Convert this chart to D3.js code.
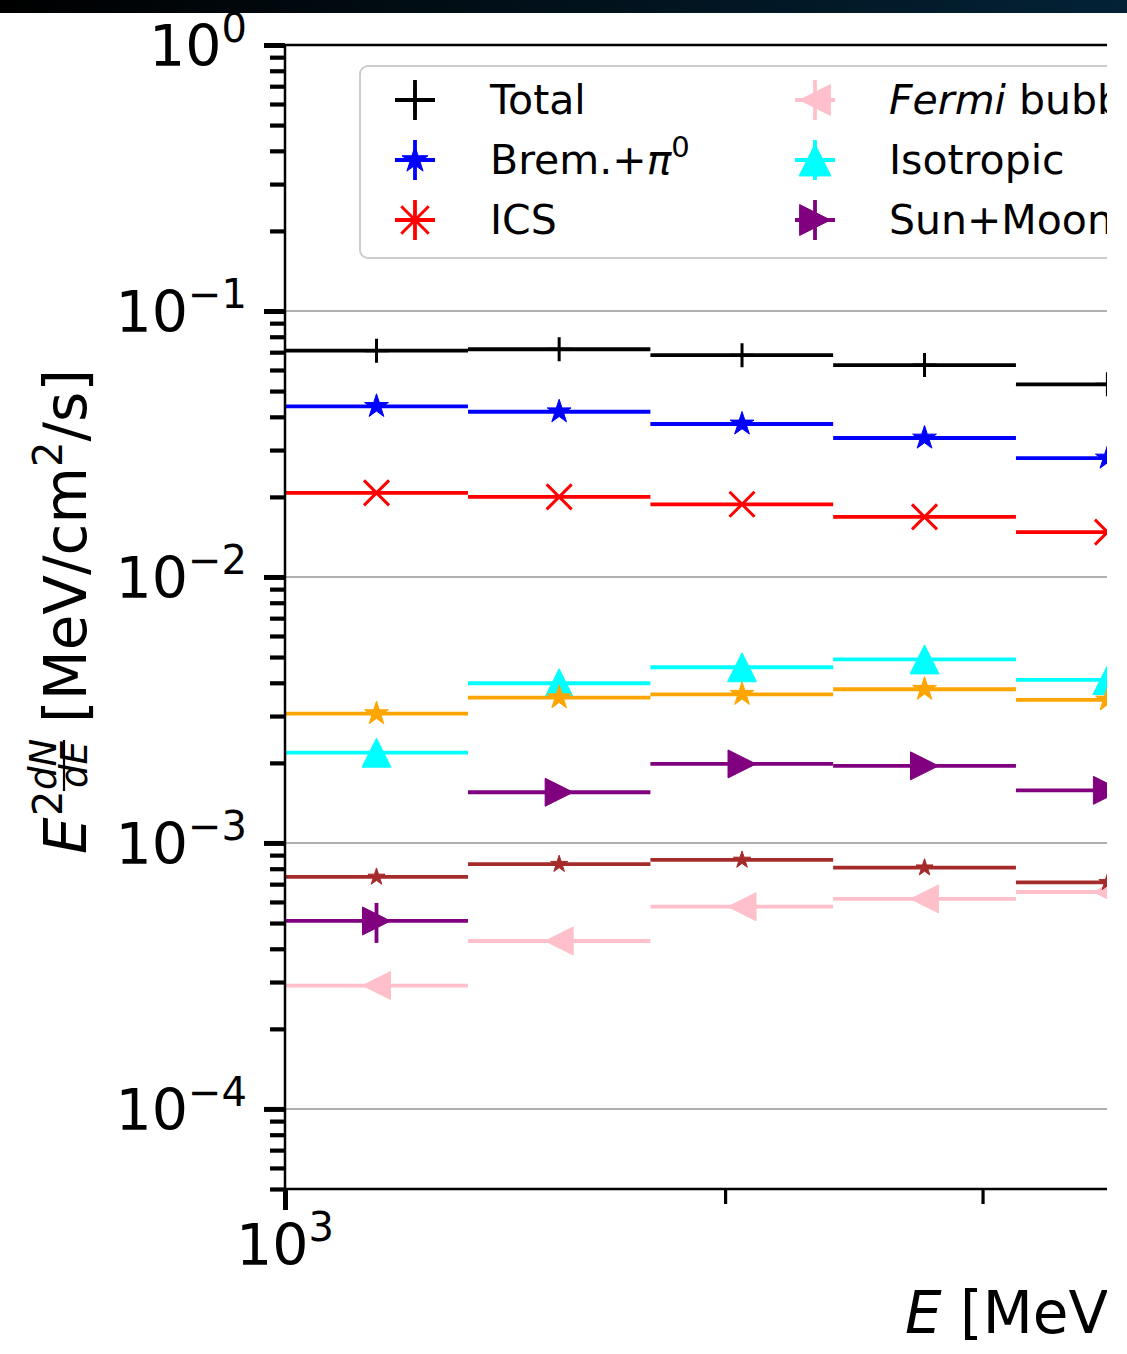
<!DOCTYPE html>
<html>
<head>
<meta charset="utf-8">
<script src="https://cdn.jsdelivr.net/npm/d3@7"></script>
<style>
  body { margin: 0; background: #fff; }
  svg { display: block; font-family: "DejaVu Sans", sans-serif; }
</style>
</head>
<body>
<div id="chart"></div>
<script>
// energy bins (MeV), 8 per decade
const binEdges = [1000, 1334, 1778, 2371, 3162, 4217];
const binCenters = [1155, 1540, 2054, 2738, 3652];

// E^2 dN/dE per component
const total = [0.0709, 0.0718, 0.0682, 0.0626, 0.0530];
const bremPi0 = [0.0438, 0.0418, 0.0376, 0.0333, 0.0280];
const ics = [0.0207, 0.0200, 0.01876, 0.01682, 0.01474];
const fermiBubbles = [0.000291, 0.000428, 0.000576, 0.000616, 0.000654];
const isotropic = [0.002185, 0.003985, 0.004576, 0.004899, 0.004100];
const sunMoon = [0.000509, 0.001551, 0.001982, 0.001949, 0.001577];
const orangeComp = [0.003063, 0.003517, 0.003622, 0.003783, 0.003448];
const brownComp = [0.000745, 0.000832, 0.000863, 0.000807, 0.000711];

// only visible y error bar (sun+moon, first bin)
const sunMoonErrLow = [0.000421, null, null, null, null];
const sunMoonErrHigh = [0.000595, null, null, null, null];

// ticks
const yMajorTicks = [1, 0.1, 0.01, 0.001, 0.0001];
const yMajorExp = ['0', '\u22121', '\u22122', '\u22123', '\u22124'];
const yMinorTicks = [0.9, 0.8, 0.7, 0.6, 0.5, 0.4, 0.3, 0.2,
  0.09, 0.08, 0.07, 0.06, 0.05, 0.04, 0.03, 0.02,
  0.009, 0.008, 0.007, 0.006, 0.005, 0.004, 0.003, 0.002,
  0.0009, 0.0008, 0.0007, 0.0006, 0.0005, 0.0004, 0.0003, 0.0002,
  0.00009, 0.00008, 0.00007, 0.00006, 0.00005];
const xMajorTicks = [1000];
const xMajorExp = ['3'];
const xMinorTicks = [2000, 3000, 4000, 5000];

const W = 1127, H = 1354;
const svg = d3.select('#chart').append('svg')
    .attr('width', W).attr('height', H);

// dark strip across the top of the screenshot
const defs = svg.append('defs');
const grad = defs.append('linearGradient').attr('id', 'topbar');
grad.append('stop').attr('offset', '0%').attr('stop-color', '#000000');
grad.append('stop').attr('offset', '100%').attr('stop-color', '#032236');
svg.append('rect').attr('x', 0).attr('y', 0).attr('width', W).attr('height', 13)
    .attr('fill', 'url(#topbar)');

// the figure is cropped on the right
defs.append('clipPath').attr('id', 'crop')
  .append('rect').attr('x', 0).attr('y', 13).attr('width', 1107).attr('height', H);

const g = svg.append('g').attr('clip-path', 'url(#crop)');

const plotLeft = 285, plotTop = 45, plotBottom = 1189;
const xScale = d3.scaleLog().domain([1000, 10000]).range([plotLeft, plotLeft + 1462]);
const yScale = d3.scaleLog().domain([5e-5, 1]).range([plotBottom, plotTop]);
const plotRight = xScale(10000);

// grid
g.append('g').selectAll('line').data(yMajorTicks).enter().append('line')
    .attr('x1', plotLeft).attr('x2', plotRight)
    .attr('y1', d => yScale(d)).attr('y2', d => yScale(d))
    .attr('stroke', '#b0b0b0').attr('stroke-width', 2);

// series table
const series = [
  {label: 'Total', values: total, color: 'black', marker: 'plus', r: 12},
  {label: 'Brem', values: bremPi0, color: 'blue', marker: 'star', r: 12.5},
  {label: 'ICS', values: ics, color: 'red', marker: 'x', r: 12.5},
  {label: 'Fermi', values: fermiBubbles, color: 'pink', marker: 'left', r: 14},
  {label: 'Isotropic', values: isotropic, color: 'cyan', marker: 'up', r: 14.5},
  {label: 'Sun+Moon', values: sunMoon, color: 'purple', marker: 'right', r: 14,
    lo: sunMoonErrLow, hi: sunMoonErrHigh},
  {label: 'orange', values: orangeComp, color: 'orange', marker: 'star', r: 12.5},
  {label: 'brown', values: brownComp, color: 'brown', marker: 'star', r: 9}
];

function markerPath(type, r){
  if(type === 'plus') return `M${-r},0H${r}M0,${-r}V${r}`;
  if(type === 'x') return `M${-r},${-r}L${r},${r}M${-r},${r}L${r},${-r}`;
  if(type === 'up') return `M0,${-r}L${-r},${r}L${r},${r}Z`;
  if(type === 'right') return `M${r},0L${-r},${-r}L${-r},${r}Z`;
  if(type === 'left') return `M${-r},0L${r},${-r}L${r},${r}Z`;
  // 5 point star
  let p = [];
  for(let i = 0; i < 10; i++){
    const a = -Math.PI / 2 + i * Math.PI / 5;
    const rr = i % 2 ? r * 0.381966 : r;
    p.push([rr * Math.cos(a), rr * Math.sin(a)]);
  }
  return 'M' + p.map(q => q[0].toFixed(2) + ',' + q[1].toFixed(2)).join('L') + 'Z';
}
const isOpen = t => t === 'plus' || t === 'x';

function drawMarker(sel, s, scale){
  const r = s.r * (scale || 1);
  sel.append('path')
    .attr('d', markerPath(s.marker, r))
    .attr('fill', isOpen(s.marker) ? 'none' : s.color)
    .attr('stroke', s.color)
    .attr('stroke-width', isOpen(s.marker) ? 3 : 1)
    .attr('stroke-linejoin', 'miter');
}

for(let s of series){
  const sg = g.append('g');
  const pts = s.values.map((v, i) => ({v: v, i: i}));
  // horizontal bin bars
  sg.selectAll('line.bin').data(pts).enter().append('line')
      .attr('x1', d => xScale(binEdges[d.i]))
      .attr('x2', d => xScale(binEdges[d.i + 1]))
      .attr('y1', d => yScale(d.v)).attr('y2', d => yScale(d.v))
      .attr('stroke', s.color).attr('stroke-width', 3.8);
  // y error bars where present
  if(s.lo){
    sg.selectAll('line.err').data(pts.filter(d => s.lo[d.i] !== null)).enter().append('line')
        .attr('x1', d => xScale(binCenters[d.i])).attr('x2', d => xScale(binCenters[d.i]))
        .attr('y1', d => yScale(s.lo[d.i])).attr('y2', d => yScale(s.hi[d.i]))
        .attr('stroke', s.color).attr('stroke-width', 3.8);
  }
  sg.selectAll('g.mk').data(pts).enter().append('g')
      .attr('transform', d => `translate(${xScale(binCenters[d.i])},${yScale(d.v)})`)
      .each(function(){ drawMarker(d3.select(this), s); });
}

// axes
const yMajor = g.append('g').attr('transform', `translate(${plotLeft},0)`)
    .call(d3.axisLeft(yScale).tickValues(yMajorTicks).tickFormat('').tickSize(21).tickSizeOuter(0));
const yMinor = g.append('g').attr('transform', `translate(${plotLeft},0)`)
    .call(d3.axisLeft(yScale).tickValues(yMinorTicks).tickFormat('').tickSize(15).tickSizeOuter(0));
const xMajor = g.append('g').attr('transform', `translate(0,${plotBottom})`)
    .call(d3.axisBottom(xScale).tickValues(xMajorTicks).tickFormat('').tickSize(21).tickSizeOuter(0));
const xMinor = g.append('g').attr('transform', `translate(0,${plotBottom})`)
    .call(d3.axisBottom(xScale).tickValues(xMinorTicks).tickFormat('').tickSize(15).tickSizeOuter(0));
g.selectAll('.domain').remove();
yMajor.selectAll('line').attr('stroke-width', 5);
yMinor.selectAll('line').attr('stroke-width', 4.2);
xMajor.selectAll('line').attr('stroke-width', 5);
xMinor.selectAll('line').attr('stroke-width', 3.2);

// spines
g.append('line').attr('x1', plotLeft).attr('x2', plotLeft).attr('y1', plotTop).attr('y2', plotBottom)
    .attr('stroke', 'black').attr('stroke-width', 2.5);
g.append('line').attr('x1', plotLeft).attr('x2', plotRight).attr('y1', plotBottom).attr('y2', plotBottom)
    .attr('stroke', 'black').attr('stroke-width', 2.5);
g.append('line').attr('x1', plotLeft).attr('x2', plotRight).attr('y1', plotTop).attr('y2', plotTop)
    .attr('stroke', 'black').attr('stroke-width', 2.5);

// tick labels 10^n
yMajorTicks.forEach((t, i) => {
  const txt = g.append('text').attr('x', 247).attr('y', yScale(t) + 21)
      .attr('text-anchor', 'end').attr('font-size', 57);
  txt.append('tspan').text('10');
  txt.append('tspan').attr('dy', -24).attr('font-size', 40).text(yMajorExp[i]);
});
xMajorTicks.forEach((t, i) => {
  const txt = g.append('text').attr('x', xScale(t)).attr('y', 1265)
      .attr('text-anchor', 'middle').attr('font-size', 57);
  txt.append('tspan').text('10');
  txt.append('tspan').attr('dy', -24).attr('font-size', 40).text(xMajorExp[i]);
});

// axis labels
const xl = g.append('text').attr('x', 905).attr('y', 1333).attr('font-size', 58);
xl.append('tspan').attr('font-style', 'italic').text('E');
xl.append('tspan').text(' [MeV]');

const yl = g.append('g').attr('transform', 'translate(86,854) rotate(-90)');
yl.append('text').attr('x', 0).attr('y', 0).attr('font-size', 58)
    .attr('font-style', 'italic').text('E');
yl.append('text').attr('x', 38).attr('y', -24).attr('font-size', 40).text('2');
yl.append('text').attr('x', 64).attr('y', -30).attr('font-size', 37)
    .attr('font-style', 'italic').text('dN');
yl.append('line').attr('x1', 63).attr('x2', 114).attr('y1', -22).attr('y2', -22)
    .attr('stroke', 'black').attr('stroke-width', 2.2);
yl.append('text').attr('x', 66).attr('y', 1).attr('font-size', 37)
    .attr('font-style', 'italic').text('dE');
const ylu = yl.append('text').attr('x', 131).attr('y', 0).attr('font-size', 58);
ylu.append('tspan').text('[MeV/cm');
ylu.append('tspan').attr('dy', -24).attr('font-size', 40).text('2');
ylu.append('tspan').attr('dy', 24).text('/s]');

// legend
const leg = g.append('g');
leg.append('rect').attr('x', 360).attr('y', 66).attr('width', 900).attr('height', 192)
    .attr('rx', 8).attr('fill', 'white').attr('fill-opacity', 0.8)
    .attr('stroke', '#cccccc').attr('stroke-width', 2);

const legendRows = [
  {s: series[0], x: 415, y: 100}, {s: series[1], x: 415, y: 160}, {s: series[2], x: 415, y: 220},
  {s: series[3], x: 815, y: 100}, {s: series[4], x: 815, y: 160}, {s: series[5], x: 815, y: 220}
];
for(let row of legendRows){
  const h = leg.append('g').attr('transform', `translate(${row.x},${row.y})`);
  h.append('path').attr('d', 'M-20,0H20M0,-20V20')
      .attr('stroke', row.s.color).attr('stroke-width', 3.8);
  drawMarker(h, row.s, 1.1);
}
function legendText(x, y){
  return leg.append('text').attr('x', x).attr('y', y + 14).attr('font-size', 41);
}
legendText(490, 100).text('Total');
const lb = legendText(490, 160);
lb.append('tspan').text('Brem.+');
lb.append('tspan').attr('font-style', 'italic').text('\u03c0');
lb.append('tspan').attr('dy', -17).attr('font-size', 29).text('0');
legendText(490, 220).text('ICS');
const lf = legendText(889, 100);
lf.append('tspan').attr('font-style', 'italic').text('Fermi');
lf.append('tspan').text(' bubbles');
legendText(889, 160).text('Isotropic');
legendText(889, 220).text('Sun+Moon');
</script>
</body>
</html>
